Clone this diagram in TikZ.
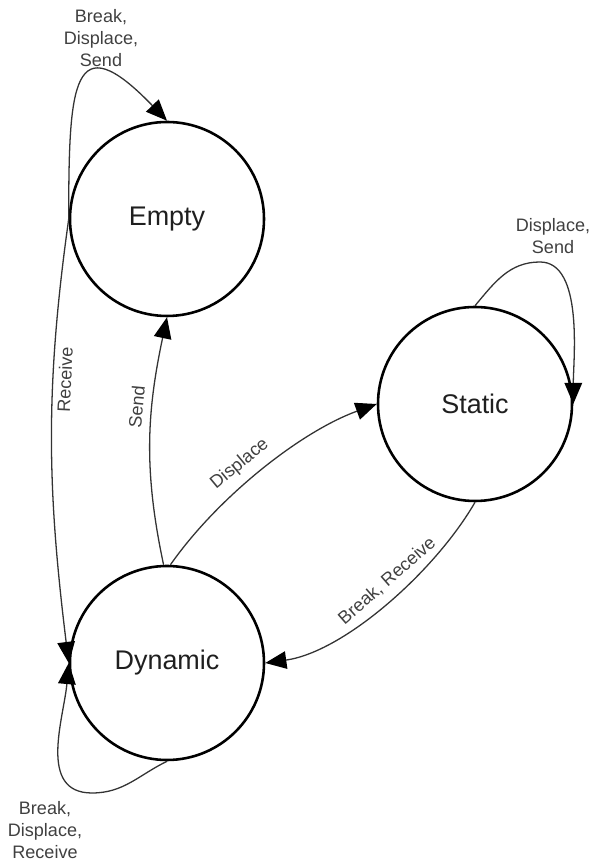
\documentclass[tikz,border=0pt]{standalone}
\usepackage{fontspec}
\setmainfont{Liberation Sans}
\usetikzlibrary{arrows.meta}

\begin{document}
\begin{tikzpicture}[unit length/.code={{\newdimen\tikzunit}\setlength{\tikzunit}{#1}},unit length=0.3mm,x=\tikzunit,y=\tikzunit,outer box/.style={draw=none,inner sep=0,outer sep=0},state/.style={circle,draw,line width=2.2pt,minimum size=194\tikzunit,inner sep=0,font=\fontsize{23}{27}\selectfont,text=black!88},wire/.style={draw,black!80,line width=1.1pt,-{Triangle[length=18pt,width=15pt,color=black]}},tag/.style={font=\fontsize{15.4}{18.8}\selectfont,text=black!75,align=center,inner sep=2pt},lab/.style={tag,sloped,inner sep=4pt}]
  \node[outer box,minimum width=591\tikzunit,minimum height=861\tikzunit] (root) at (295.5,430.5) {};
  \node[state] (empty) at (167,642) {Empty};
  \node[state] (static) at (475,457) {Static};
  \node[state] (dynamic) at (167,198) {Dynamic};
  \node[tag] (t1) at (101,823) {Break,\\Displace,\\Send};
  \node[tag] (t2) at (553,625) {Displace,\\Send};
  \node[tag] (t3) at (45,31) {Break,\\Displace,\\Receive};
  \path[wire] (empty.west) to[out=90,in=134,looseness=2.5] (empty.north);
  \path[wire] (empty.west) to[out=-98,in=97] node[lab,below,pos=0.35] {Receive} (dynamic.west);
  \path[wire] (dynamic.92) to[out=102,in=-102] node[lab,above,pos=0.64,inner sep=7pt] {Send} (empty.south);
  \path[wire] (dynamic.88) to[out=55,in=200,looseness=0.8] node[lab,above,pos=0.45,inner sep=8pt] {Displace} (static.west);
  \path[wire] (static.south) to[out=240,in=8,looseness=0.77] node[lab,above,pos=0.44,inner sep=7pt] {Break, Receive} (dynamic.east);
  \path[wire] (static.north) to[out=50,in=180] (540,599) to[out=0,in=90,looseness=0.77] (static.east);
  \path[wire] (dynamic.south) to[out=206,in=0] (92,68) to[out=180,in=-95,looseness=1.06] (dynamic.west);
\end{tikzpicture}
\end{document}
